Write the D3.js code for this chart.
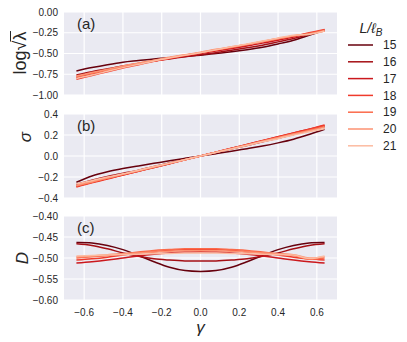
<!DOCTYPE html>
<html><head><meta charset="utf-8">
<script src="https://cdn.jsdelivr.net/npm/d3@7"></script>
<style>
body{margin:0;background:#fff;}
text{font-family:"Liberation Sans",Arial,sans-serif;fill:#262626;}
</style></head><body>
<svg id="c" width="407" height="342"></svg>
<script>
const gammas = [-0.64,-0.56,-0.48,-0.40,-0.32,-0.24,-0.16,-0.08,0,0.08,0.16,0.24,0.32,0.40,0.48,0.56,0.64];
const sizes = ["15","16","17","18","19","20","21"];
const colors = ["#67000d","#a50f15","#cb181d","#ef3b2c","#fb6a4a","#fc9272","#fcbba1"];

const logSqrtLambda = [
  [-0.71,-0.67,-0.635,-0.605,-0.585,-0.565,-0.55,-0.535,-0.52,-0.50,-0.48,-0.455,-0.425,-0.385,-0.34,-0.28,-0.22],
  [-0.76,-0.72,-0.685,-0.65,-0.62,-0.59,-0.565,-0.54,-0.515,-0.49,-0.46,-0.43,-0.40,-0.36,-0.32,-0.27,-0.22],
  [-0.79,-0.745,-0.70,-0.66,-0.625,-0.59,-0.56,-0.53,-0.50,-0.47,-0.44,-0.41,-0.375,-0.34,-0.30,-0.26,-0.23],
  [-0.81,-0.765,-0.72,-0.675,-0.635,-0.595,-0.56,-0.525,-0.49,-0.46,-0.43,-0.395,-0.36,-0.325,-0.29,-0.25,-0.21],
  [-0.78,-0.74,-0.70,-0.66,-0.62,-0.585,-0.55,-0.52,-0.49,-0.455,-0.425,-0.39,-0.355,-0.32,-0.29,-0.26,-0.22],
  [-0.77,-0.73,-0.69,-0.65,-0.615,-0.58,-0.545,-0.515,-0.485,-0.45,-0.42,-0.39,-0.355,-0.32,-0.285,-0.265,-0.23],
  [-0.80,-0.76,-0.715,-0.67,-0.63,-0.59,-0.555,-0.52,-0.49,-0.455,-0.42,-0.385,-0.35,-0.315,-0.28,-0.27,-0.23]
];
const sigma = [
  [-0.25,-0.19,-0.15,-0.12,-0.095,-0.07,-0.045,-0.022,0,0.022,0.045,0.07,0.095,0.125,0.16,0.205,0.255],
  [-0.27,-0.23,-0.195,-0.165,-0.135,-0.10,-0.067,-0.033,0,0.034,0.068,0.10,0.135,0.17,0.205,0.245,0.28],
  [-0.29,-0.25,-0.215,-0.18,-0.145,-0.11,-0.073,-0.037,0,0.037,0.074,0.11,0.146,0.183,0.22,0.255,0.29],
  [-0.295,-0.255,-0.22,-0.18,-0.145,-0.11,-0.073,-0.036,0,0.037,0.073,0.11,0.147,0.183,0.22,0.255,0.295],
  [-0.285,-0.25,-0.21,-0.175,-0.14,-0.105,-0.07,-0.035,0,0.035,0.07,0.105,0.14,0.175,0.21,0.245,0.28],
  [-0.28,-0.245,-0.21,-0.175,-0.14,-0.105,-0.07,-0.035,0,0.035,0.07,0.105,0.14,0.175,0.21,0.24,0.275],
  [-0.265,-0.235,-0.20,-0.17,-0.135,-0.10,-0.068,-0.034,0,0.034,0.068,0.10,0.135,0.165,0.20,0.23,0.26]
];
const D = [
  [-0.463,-0.464,-0.470,-0.480,-0.494,-0.509,-0.522,-0.530,-0.532,-0.530,-0.522,-0.509,-0.494,-0.480,-0.470,-0.464,-0.463],
  [-0.466,-0.470,-0.478,-0.488,-0.496,-0.502,-0.505,-0.507,-0.507,-0.507,-0.505,-0.502,-0.496,-0.488,-0.478,-0.470,-0.466],
  [-0.512,-0.509,-0.505,-0.500,-0.495,-0.491,-0.488,-0.486,-0.485,-0.486,-0.488,-0.491,-0.495,-0.500,-0.505,-0.509,-0.512],
  [-0.505,-0.502,-0.498,-0.493,-0.488,-0.485,-0.482,-0.480,-0.480,-0.480,-0.482,-0.485,-0.488,-0.493,-0.498,-0.502,-0.505],
  [-0.500,-0.497,-0.494,-0.490,-0.486,-0.482,-0.480,-0.478,-0.478,-0.478,-0.480,-0.482,-0.486,-0.490,-0.494,-0.503,-0.500],
  [-0.497,-0.495,-0.492,-0.490,-0.488,-0.486,-0.484,-0.483,-0.483,-0.483,-0.484,-0.486,-0.488,-0.490,-0.492,-0.500,-0.497],
  [-0.495,-0.494,-0.493,-0.492,-0.491,-0.490,-0.489,-0.488,-0.488,-0.488,-0.489,-0.490,-0.491,-0.492,-0.493,-0.501,-0.495]
];
const xTicks = [-0.6,-0.4,-0.2,0.0,0.2,0.4,0.6];
const aTicks = [0,-0.25,-0.5,-0.75,-1.0];
const bTicks = [0.4,0.2,0.0,-0.2,-0.4];
const cTicks = [-0.40,-0.45,-0.50,-0.55,-0.60];

const svg = d3.select("#c");
const x = d3.scaleLinear().domain([-0.704,0.704]).range([64,337]);

const panels = [
  {data:logSqrtLambda, dom:[-1,0], rng:[95,12], ticks:aTicks, fmt:d3.format(".2f"), label:"(a)"},
  {data:sigma, dom:[-0.4,0.4], rng:[198,114], ticks:bTicks, fmt:d3.format(".1f"), label:"(b)"},
  {data:D, dom:[-0.6,-0.4], rng:[300,216], ticks:cTicks, fmt:d3.format(".2f"), label:"(c)"}
];
const minus = s => s.replace("-","\u2212");

panels.forEach((p,pi)=>{
  const y = d3.scaleLinear().domain(p.dom).range(p.rng);
  p.y = y;
  const g = svg.append("g");
  g.append("rect").attr("x",x.range()[0]).attr("y",p.rng[1]).attr("width",x.range()[1]-x.range()[0]).attr("height",p.rng[0]-p.rng[1]).attr("fill","#eaeaf2");
  g.selectAll(".vg").data(xTicks).join("line").attr("x1",d=>x(d)).attr("x2",d=>x(d)).attr("y1",p.rng[1]).attr("y2",p.rng[0]).attr("stroke","#fff").attr("stroke-width",1.2);
  g.selectAll(".hg").data(p.ticks).join("line").attr("x1",x.range()[0]).attr("x2",x.range()[1]).attr("y1",d=>y(d)).attr("y2",d=>y(d)).attr("stroke","#fff").attr("stroke-width",1.2);
  g.selectAll(".yt").data(p.ticks).join("text").attr("x",58).attr("y",d=>y(d)).attr("dy","0.35em").attr("text-anchor","end").attr("font-size",10).text(d=>minus(p.fmt(d)));
  g.append("text").attr("x",77).attr("y",p.rng[1]+17).attr("font-size",15).text(p.label);
  const line = d3.line().x((d,i)=>x(gammas[i])).y(d=>y(d)).curve(d3.curveCatmullRom);
  p.data.forEach((s,si)=>{
    g.append("path").datum(s).attr("d",line).attr("fill","none").attr("stroke",colors[si]).attr("stroke-width",1.5);
  });
});

// x axis ticks on bottom panel
svg.selectAll(".xt").data(xTicks).join("text").attr("x",d=>x(d)).attr("y",316).attr("text-anchor","middle").attr("font-size",10).text(d=>minus(d3.format(".1f")(d)));
svg.append("text").attr("x",x(0)).attr("y",333).attr("text-anchor","middle").attr("font-size",17).attr("font-style","italic").attr("font-family","DejaVu Sans").text("γ");

// y labels
const ya = svg.append("g").attr("transform","translate(26,53) rotate(-90)");
const t1 = ya.append("text").attr("font-size",18).attr("font-family","DejaVu Sans").attr("text-anchor","start");
t1.append("tspan").text("log√");
const lam = t1.append("tspan").text("λ");
const full = t1.node().getComputedTextLength();
t1.attr("x",-full/2);
const lamW = lam.node().getComputedTextLength();
ya.append("line").attr("x1",full/2-lamW-1).attr("x2",full/2+0.5).attr("y1",-15.5).attr("y2",-15.5).attr("stroke","#262626").attr("stroke-width",1);
svg.append("text").attr("transform","translate(31,137) rotate(-90)").attr("text-anchor","middle").attr("font-size",17).attr("font-style","italic").attr("font-family","DejaVu Sans").text("σ");
svg.append("text").attr("transform","translate(28,258) rotate(-90)").attr("text-anchor","middle").attr("font-size",17).attr("font-style","italic").attr("font-family","DejaVu Sans").text("D");

// legend
const lt = svg.append("text").attr("x",371).attr("y",33).attr("text-anchor","middle").attr("font-size",14).attr("font-style","italic").attr("font-family","DejaVu Sans");
lt.append("tspan").text("L/ℓ");
lt.append("tspan").attr("font-size",10).attr("dy",3).text("B");
const leg = svg.append("g");
sizes.forEach((s,i)=>{
  const yy = 45 + i*16.8;
  leg.append("line").attr("x1",348).attr("x2",373).attr("y1",yy).attr("y2",yy).attr("stroke",colors[i]).attr("stroke-width",1.5);
  leg.append("text").attr("x",383).attr("y",yy).attr("dy","0.35em").attr("font-size",12).text(s);
});
</script></body></html>
